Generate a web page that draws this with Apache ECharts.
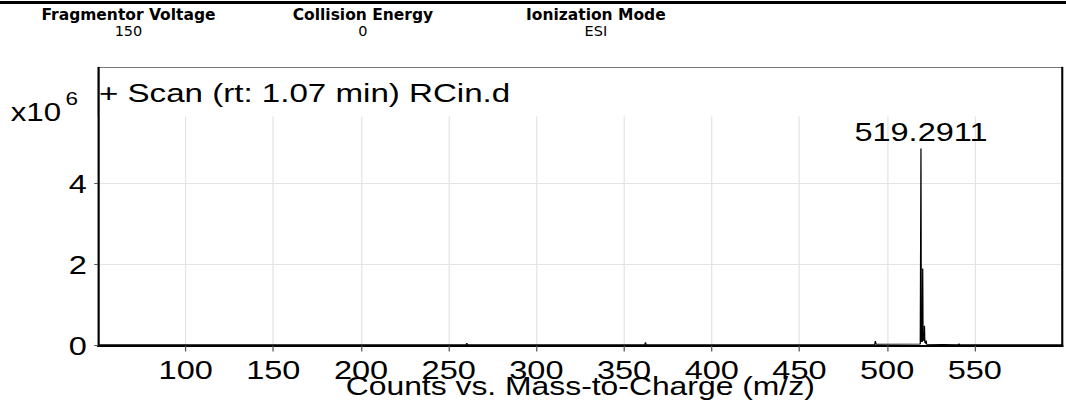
<!DOCTYPE html>
<html lang="en">
<head>
<meta charset="UTF-8">
<title>Scan RCin.d</title>
<script src="https://cdn.jsdelivr.net/npm/echarts@6/dist/echarts.min.js"></script>
<style>
    html, body { margin: 0; padding: 0; background: #fff; overflow: hidden; }
    /* the instrument report is drawn a bit wider than normal, so stretch the chart */
    #main { width: 853px; height: 404px; transform: scaleX(1.2497); transform-origin: 0 0; }
</style>
</head>
<body>
<div id="main"></div>
<script>
    // header block
    var headerNames = ['Fragmentor Voltage', 'Collision Energy', 'Ionization Mode'];
    var headerValues = ['150', '0', 'ESI'];
    var headerX = [102.8, 290.4, 476.8];

    var scanTitle = '+ Scan (rt: 1.07 min) RCin.d';
    var xName = 'Counts vs. Mass-to-Charge (m/z)';

    // axes
    var xMin = 50, xMax = 600, xStep = 50;
    var yMin = 0, yMax = 5.65, yStep = 2;

    // spectrum, counts in x10^6
    var mz = [50, 100, 150, 200, 259.9, 260.3, 260.7, 300, 361.8, 362.2, 362.6, 400, 450,
        492.9, 493.3, 493.7, 518.9, 519.2911, 519.5, 520.1, 520.29, 520.5, 521.1, 521.3, 521.5,
        522.1, 522.3, 522.5, 540.6, 541, 541.4, 600];
    var counts = [0.02, 0.02, 0.02, 0.02, 0.02, 0.06, 0.02, 0.02, 0.02, 0.08, 0.02, 0.02, 0.02,
        0.02, 0.11, 0.03, 0.04, 4.86, 0.10, 0.10, 1.90, 0.15, 0.12, 0.49, 0.08,
        0.05, 0.12, 0.03, 0.02, 0.04, 0.02, 0.02];

    // labelled peaks
    var peakMz = [519.2911];
    var peakCounts = [4.86];
    var peakText = ['519.2911'];

    var font = '"Liberation Sans", Arial, sans-serif';
    var unstretch = 1 / 1.2497;

    var data = [];
    for (var i = 0; i < mz.length; i++) {
        data.push([mz[i], counts[i]]);
    }
    var marks = [];
    for (var j = 0; j < peakMz.length; j++) {
        marks.push({ coord: [peakMz[j], peakCounts[j]], value: peakText[j] });
    }

    var graphics = [{
        type: 'line',
        shape: { x1: 0, y1: 2.5, x2: 853, y2: 2.5 },
        style: { stroke: '#000', lineWidth: 3 }
    }, {
        type: 'text', x: 8.6, y: 112,
        style: { text: 'x10', fontSize: 25, fontFamily: font, fill: '#000', textAlign: 'left', textVerticalAlign: 'middle' }
    }, {
        type: 'text', x: 52.4, y: 99,
        style: { text: '6', fontSize: 18, fontFamily: font, fill: '#000', textAlign: 'left', textVerticalAlign: 'middle' }
    }];
    for (var k = 0; k < headerNames.length; k++) {
        graphics.push({
            type: 'text', x: headerX[k], y: 15, scaleX: unstretch,
            style: { text: headerNames[k], fontSize: 15.5, fontWeight: 'bold', fontFamily: '"DejaVu Sans"', fill: '#000', textAlign: 'center', textVerticalAlign: 'middle' }
        });
        graphics.push({
            type: 'text', x: headerX[k], y: 31, scaleX: unstretch,
            style: { text: headerValues[k], fontSize: 14.5, fontFamily: '"DejaVu Sans"', fill: '#000', textAlign: 'center', textVerticalAlign: 'middle' }
        });
    }

    var myChart = echarts.init(document.getElementById('main'), null, { renderer: 'svg' });
    var option = {
        animation: false,
        backgroundColor: '#fff',
        title: {
            text: scanTitle,
            left: 79.2,
            top: 79,
            padding: 0,
            textStyle: { fontSize: 26.5, fontWeight: 'normal', color: '#000', fontFamily: font }
        },
        graphic: graphics,
        grid: [{
            // frame around plot + title
            left: 78.4, right: 2.8, top: 67.5, bottom: 58.5,
            outerBoundsMode: 'none',
            show: true, borderColor: '#777', borderWidth: 1, backgroundColor: 'transparent'
        }, {
            left: 78.4, right: 2.8, top: 116.5, bottom: 58.5,
            outerBoundsMode: 'none'
        }],
        xAxis: [{
            gridIndex: 0, type: 'value', min: 0, max: 1, show: false
        }, {
            gridIndex: 1,
            type: 'value',
            min: xMin, max: xMax, interval: xStep,
            name: xName,
            nameLocation: 'middle',
            nameGap: 28,
            nameMoveOverlap: false,
            nameTextStyle: { fontSize: 25.5, color: '#000', fontFamily: font },
            axisLine: { lineStyle: { color: '#000', width: 2 } },
            axisTick: { length: 6, lineStyle: { color: '#555' } },
            axisLabel: {
                showMinLabel: false, showMaxLabel: false,
                margin: 11, fontSize: 26, color: '#000', fontFamily: font
            },
            splitLine: { lineStyle: { color: '#e4e4e4' } }
        }],
        yAxis: [{
            gridIndex: 0, type: 'value', min: 0, max: 1, position: 'left',
            axisLine: { show: true, lineStyle: { color: '#000', width: 1.6 } },
            axisTick: { show: false }, axisLabel: { show: false }, splitLine: { show: false }
        }, {
            gridIndex: 0, type: 'value', min: 0, max: 1, position: 'right',
            axisLine: { show: true, lineStyle: { color: '#000', width: 1.6 } },
            axisTick: { show: false }, axisLabel: { show: false }, splitLine: { show: false }
        }, {
            gridIndex: 1,
            type: 'value',
            min: yMin, max: yMax, interval: yStep,
            axisLine: { show: false },
            axisTick: { show: true, length: 3, lineStyle: { color: '#555' } },
            axisLabel: { showMaxLabel: false, margin: 9, fontSize: 26, color: '#000', fontFamily: font },
            splitLine: { showMaxLine: false, lineStyle: { color: '#e4e4e4' } }
        }],
        series: [{
            type: 'line',
            xAxisIndex: 1,
            yAxisIndex: 2,
            data: data,
            showSymbol: false,
            lineStyle: { color: '#000', width: 1 },
            markPoint: {
                symbol: 'circle',
                symbolSize: 1,
                itemStyle: { color: 'rgba(0,0,0,0)' },
                label: {
                    show: true, position: 'top', distance: 3,
                    formatter: '{c}', fontSize: 26, color: '#000', fontFamily: font
                },
                data: marks
            }
        }]
    };
    myChart.setOption(option);
</script>
</body>
</html>
